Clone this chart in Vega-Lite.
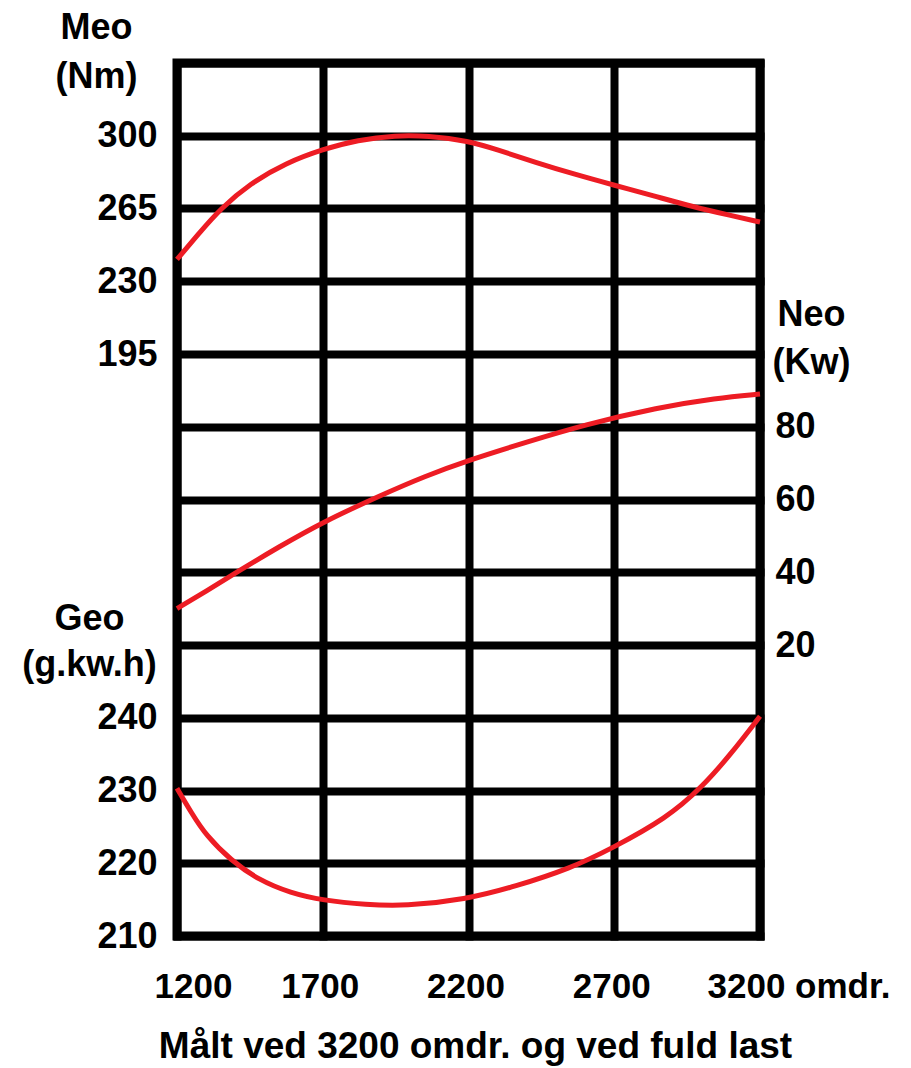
{
  "$schema": "https://vega.github.io/schema/vega-lite/v6.json",
  "width": 583,
  "height": 873,
  "autosize": {"type": "none"},
  "padding": {"left": 177, "top": 63, "right": 151, "bottom": 132},
  "background": "white",
  "config": {
    "view": {"stroke": "black", "strokeWidth": 9},
    "font": "Liberation Sans",
    "axis": {
      "labelFont": "Liberation Sans",
      "labelFontWeight": "bold",
      "labelColor": "black",
      "labelFontSize": 36,
      "labelLimit": 0,
      "titleFont": "Liberation Sans",
      "titleFontWeight": "bold",
      "titleColor": "black",
      "titleFontSize": 36,
      "titleLimit": 0,
      "domain": false,
      "ticks": false,
      "tickSize": 0,
      "labelOverlap": false,
      "labelFlush": false,
      "labelBound": false,
      "gridColor": "black",
      "gridOpacity": 1,
      "gridWidth": 8,
      "gridCap": "square"
    }
  },
  "datasets": {
    "meo": [
      {"rpm": 1200, "meo": 240.5},
      {"rpm": 1275, "meo": 253},
      {"rpm": 1350, "meo": 265},
      {"rpm": 1450, "meo": 277},
      {"rpm": 1575, "meo": 287},
      {"rpm": 1700, "meo": 293.5},
      {"rpm": 1820, "meo": 298},
      {"rpm": 1950, "meo": 300.2},
      {"rpm": 2060, "meo": 300},
      {"rpm": 2200, "meo": 297.5},
      {"rpm": 2300, "meo": 293.2},
      {"rpm": 2430, "meo": 287.2},
      {"rpm": 2565, "meo": 281.4},
      {"rpm": 2700, "meo": 276.2},
      {"rpm": 2840, "meo": 270.9},
      {"rpm": 2970, "meo": 265.8},
      {"rpm": 3100, "meo": 261.6},
      {"rpm": 3200, "meo": 258.5}
    ],
    "neo": [
      {"rpm": 1200, "neo": 30.0},
      {"rpm": 1300, "neo": 34.8},
      {"rpm": 1400, "neo": 39.8},
      {"rpm": 1550, "neo": 47.0},
      {"rpm": 1700, "neo": 53.8},
      {"rpm": 1900, "neo": 61.2},
      {"rpm": 2050, "neo": 66.4},
      {"rpm": 2200, "neo": 70.8},
      {"rpm": 2400, "neo": 75.8},
      {"rpm": 2600, "neo": 80.6},
      {"rpm": 2850, "neo": 85.3},
      {"rpm": 3050, "neo": 87.9},
      {"rpm": 3200, "neo": 89.0}
    ],
    "geo": [
      {"rpm": 1200, "geo": 230.3},
      {"rpm": 1250, "geo": 226.9},
      {"rpm": 1300, "geo": 223.8},
      {"rpm": 1385, "geo": 220.4},
      {"rpm": 1480, "geo": 217.7},
      {"rpm": 1590, "geo": 215.9},
      {"rpm": 1700, "geo": 214.9},
      {"rpm": 1850, "geo": 214.3},
      {"rpm": 1980, "geo": 214.1},
      {"rpm": 2190, "geo": 215.0},
      {"rpm": 2360, "geo": 216.8},
      {"rpm": 2550, "geo": 219.3},
      {"rpm": 2690, "geo": 222.0},
      {"rpm": 2880, "geo": 226.2},
      {"rpm": 3000, "geo": 230.4},
      {"rpm": 3100, "geo": 235.0},
      {"rpm": 3200, "geo": 240.2}
    ]
  },
  "encoding": {
    "x": {
      "field": "rpm",
      "type": "quantitative",
      "scale": {"domain": [1200, 3200], "nice": false, "zero": false},
      "axis": {
        "orient": "bottom",
        "values": [1200, 1700, 2200, 2700, 3200],
        "format": "d",
        "grid": true,
        "labelFontSize": 35,
        "labelPadding": 61,
        "labelBaseline": "alphabetic",
        "labelExpr": "datum.value == 3200 ? '3200 omdr.' : datum.label",
        "labelAlign": {"condition": {"test": "datum.value == 3200", "value": "left"}, "value": "center"},
        "labelOffset": {"condition": [{"test": "datum.value == 1200", "value": 16}, {"test": "datum.value == 3200", "value": -53}], "value": -3},
        "title": "Målt ved 3200 omdr. og ved fuld last",
        "titleFontSize": 37,
        "titleX": 298,
        "titleY": 121,
        "titleAlign": "center",
        "titleBaseline": "alphabetic"
      }
    }
  },
  "layer": [
    {
      "data": {"name": "geo"},
      "mark": {"type": "line", "color": "#ED1C24", "strokeWidth": 5, "interpolate": "basis"},
      "encoding": {
        "y": {
          "field": "geo",
          "type": "quantitative",
          "scale": {"domain": [210, 330], "nice": false, "zero": false},
          "axis": {
            "orient": "left",
            "values": [210, 220, 230, 240, 250, 260, 270, 280, 290, 300, 310, 320, 330],
            "format": "d",
            "grid": true,
            "labelExpr": "datum.value <= 240 ? datum.label : ''",
            "labelPadding": 20,
            "labelBaseline": "middle",
            "title": ["Geo", "(g.kw.h)"],
            "titleAngle": 0,
            "titleX": -88,
            "titleY": 566,
            "titleAlign": "center",
            "titleBaseline": "alphabetic",
            "titleLineHeight": 46
          }
        }
      }
    },
    {
      "data": {"name": "meo"},
      "mark": {"type": "line", "color": "#ED1C24", "strokeWidth": 5, "interpolate": "basis"},
      "encoding": {
        "y": {
          "field": "meo",
          "type": "quantitative",
          "scale": {"domain": [-85, 335], "nice": false, "zero": false},
          "axis": {
            "orient": "left",
            "values": [195, 230, 265, 300],
            "format": "d",
            "grid": false,
            "labelPadding": 20,
            "labelBaseline": "middle",
            "title": ["Meo", "(Nm)"],
            "titleAngle": 0,
            "titleX": -81,
            "titleY": -25,
            "titleAlign": "center",
            "titleBaseline": "alphabetic",
            "titleLineHeight": 49
          }
        }
      }
    },
    {
      "data": {"name": "neo"},
      "mark": {"type": "line", "color": "#ED1C24", "strokeWidth": 5, "interpolate": "basis"},
      "encoding": {
        "y": {
          "field": "neo",
          "type": "quantitative",
          "scale": {"domain": [-60, 180], "nice": false, "zero": false},
          "axis": {
            "orient": "right",
            "values": [20, 40, 60, 80],
            "format": "d",
            "grid": false,
            "labelPadding": 15,
            "labelBaseline": "middle",
            "title": ["Neo", "(Kw)"],
            "titleAngle": 0,
            "titleX": 51,
            "titleY": 262,
            "titleAlign": "center",
            "titleBaseline": "alphabetic",
            "titleLineHeight": 48
          }
        }
      }
    }
  ],
  "resolve": {"scale": {"y": "independent"}, "axis": {"y": "independent"}}
}
